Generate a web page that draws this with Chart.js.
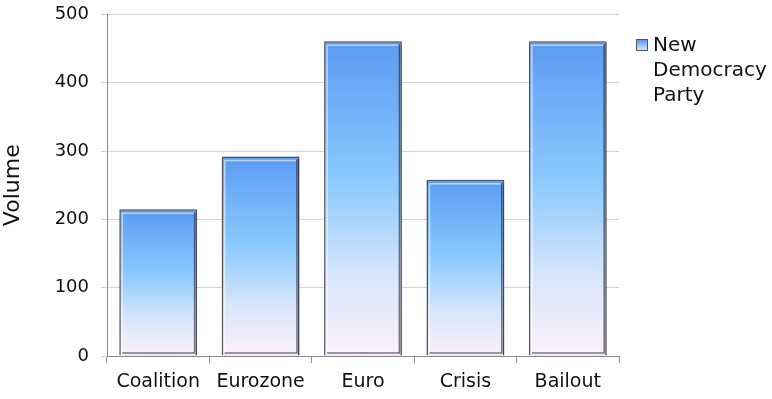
<!DOCTYPE html>
<html>
<head>
<meta charset="utf-8">
<script src="https://cdn.jsdelivr.net/npm/chart.js@4.4.1/dist/chart.umd.min.js"></script>
<style>
  html, body { margin: 0; padding: 0; background: #fff; }
  #wrap { position: relative; width: 772px; height: 399px; }
  #legend { position: absolute; left: 636px; top: 32px; font-family: "DejaVu Sans", sans-serif; font-size: 20px; color: #111; line-height: 25px; }
  #legend .box { position: absolute; left: 0; top: 7px; width: 10px; height: 10px; border: 1px solid #555; background: linear-gradient(#5b9bf0, #cfe4ff); }
  #legend .txt { margin-left: 17px; }
</style>
</head>
<body>
<div id="wrap">
  <canvas id="c" width="772" height="399"></canvas>
  <div id="legend"><span class="box"></span><div class="txt">New<br>Democracy<br>Party</div></div>
</div>
<script>
const categories = ["Coalition", "Eurozone", "Euro", "Crisis", "Bailout"];
const seriesName = "New Democracy Party";
const volumes = [215, 292, 461, 258, 461];
const yTicks = [0, 100, 200, 300, 400, 500];

const FONT = '"DejaVu Sans", sans-serif';

function barGradient(ctx) {
  const chart = ctx.chart;
  if (!chart.chartArea || ctx.type !== 'data') return '#7fb6f8';
  const y = chart.scales.y;
  const top = y.getPixelForValue(ctx.raw);
  const bottom = y.getPixelForValue(0);
  if (!isFinite(top) || !isFinite(bottom) || top === bottom) return '#7fb6f8';
  const g = chart.ctx.createLinearGradient(0, top, 0, bottom);
  g.addColorStop(0, '#5b9bf2');
  g.addColorStop(0.45, '#8ccaff');
  g.addColorStop(0.75, '#d8e6fb');
  g.addColorStop(1, '#fdf0fb');
  return g;
}

const shadowPlugin = {
  id: 'barShadow',
  beforeDatasetsDraw(chart) {
    const c = chart.ctx;
    c.save();
    c.shadowColor = 'rgba(0,0,0,0.35)';
    c.shadowBlur = 4;
    c.shadowOffsetX = 1;
    c.shadowOffsetY = 1;
  },
  afterDatasetsDraw(chart) {
    const c = chart.ctx;
    c.restore();
    const meta = chart.getDatasetMeta(0);
    c.save();
    meta.data.forEach(bar => {
      const p = bar.getProps(['x', 'y', 'base', 'width'], true);
      const l = p.x - p.width / 2, r = p.x + p.width / 2;
      c.strokeStyle = 'rgba(255,255,255,0.55)';
      c.lineWidth = 1.5;
      c.beginPath();
      c.moveTo(l + 3, p.base - 3);
      c.lineTo(l + 3, p.y + 4);
      c.lineTo(r - 3, p.y + 4);
      c.stroke();
      c.strokeStyle = 'rgba(30,30,50,0.6)';
      c.beginPath();
      c.moveTo(r - 2.5, p.y + 3);
      c.lineTo(r - 2.5, p.base - 2.5);
      c.lineTo(l + 3, p.base - 2.5);
      c.stroke();
    });
    c.restore();
  }
};

new Chart(document.getElementById('c'), {
  type: 'bar',
  data: {
    labels: categories,
    datasets: [{
      label: seriesName,
      data: volumes,
      backgroundColor: barGradient,
      borderColor: '#5a5a68',
      borderWidth: 1.5,
      categoryPercentage: 0.76,
      barPercentage: 1.0
    }]
  },
  options: {
    responsive: false,
    animation: false,
    devicePixelRatio: 1,
    layout: { padding: { top: 14.5, right: 153, left: 0, bottom: 0 } },
    plugins: {
      legend: { display: false },
      tooltip: { enabled: false }
    },
    scales: {
      x: {
        offset: true,
        grid: { display: true, drawOnChartArea: false, drawTicks: true, tickLength: 7, color: '#8c8c8c', offset: true },
        border: { display: true, color: '#8c8c8c', width: 1 },
        ticks: { color: '#111', font: { family: FONT, size: 19 }, padding: 8 },
        afterFit(s) { s.height = 43; s.paddingLeft = 0; s.paddingRight = 0; }
      },
      y: {
        min: 0, max: 500,
        afterBuildTicks(s) { s.ticks = yTicks.map(v => ({ value: v })); },
        grid: { color: '#d4d4d4', tickLength: 6, drawTicks: true },
        border: { display: true, color: '#8c8c8c', width: 1 },
        ticks: { color: '#111', font: { family: FONT, size: 18 }, padding: 12 },
        title: { display: true, text: 'Volume', color: '#111', font: { family: FONT, size: 22 }, padding: { top: 0, bottom: 8 } },
        afterFit(s) { s.width = 107; s.paddingTop = 0; s.paddingBottom = 0; }
      }
    }
  },
  plugins: [shadowPlugin]
});
</script>
</body>
</html>
